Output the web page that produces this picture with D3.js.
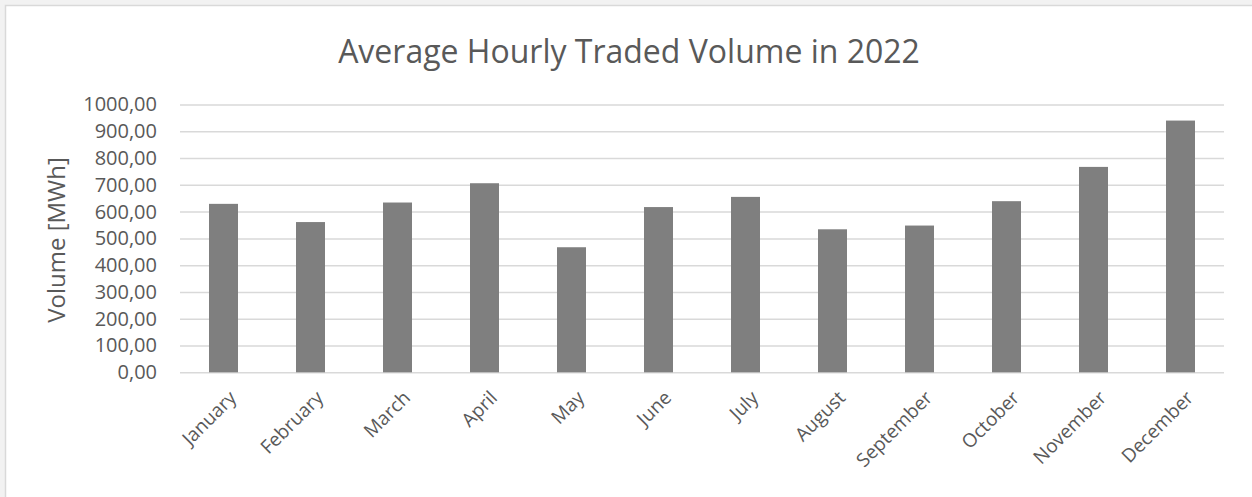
<!DOCTYPE html>
<html>
<head>
<meta charset="utf-8">
<script src="https://cdn.jsdelivr.net/npm/d3@7"></script>
<style>
  body { margin: 0; background: #f2f2f2; }
  svg { display: block; }
  text { font-family: "Open Sans", sans-serif; fill: #595959; }
</style>
</head>
<body>
<div id="chart"></div>
<script>
// data
var months = ["January", "February", "March", "April", "May", "June",
              "July", "August", "September", "October", "November", "December"];
var volume = [629, 561, 634, 706, 467, 617, 655, 534, 548, 639, 767, 940];
var yTicks = [0, 100, 200, 300, 400, 500, 600, 700, 800, 900, 1000];

var width = 1252, height = 497;
var plotLeft = 180, plotRight = 1224, plotTop = 104.5, plotBottom = 372.3;

var svg = d3.select("#chart")
    .append("svg")
    .attr("width", width)
    .attr("height", height);

// chart area with thin border
svg.append("rect")
    .attr("x", 5.5)
    .attr("y", 5.5)
    .attr("width", width)
    .attr("height", height)
    .style("fill", "white")
    .style("stroke", "#d9d9d9")
    .style("stroke-width", 1.5);

var x = d3.scaleBand()
    .domain(months)
    .range([plotLeft, plotRight])
    .paddingInner(2 / 3)
    .paddingOuter(1 / 3);

var y = d3.scaleLinear()
    .domain([0, 1000])
    .range([plotBottom, plotTop]);

var fmt = function(d){ return d3.format(".2f")(d).replace(".", ","); };

// gridlines + y labels
var yAxis = svg.append("g")
    .attr("transform", "translate(" + plotLeft + ",0)")
    .call(d3.axisLeft(y).tickValues(yTicks).tickFormat(fmt)
        .tickSize(-(plotRight - plotLeft)).tickPadding(23));

yAxis.select(".domain").remove();
yAxis.selectAll(".tick line")
    .style("stroke", "#d9d9d9")
    .style("stroke-width", 1.5);
yAxis.selectAll(".tick text")
    .style("font-family", "'Open Sans', sans-serif")
    .style("font-size", "20px")
    .style("fill", "#595959");

// bars
svg.append("g")
    .selectAll("rect")
    .data(volume)
    .enter()
    .append("rect")
    .attr("x", function(d, i){ return x(months[i]); })
    .attr("y", function(d){ return y(d); })
    .attr("width", x.bandwidth())
    .attr("height", function(d){ return y(0) - y(d); })
    .style("fill", "#7f7f7f");

// month labels, rotated
svg.append("g")
    .selectAll("text")
    .data(months)
    .enter()
    .append("text")
    .attr("transform", function(d){
        return "translate(" + (x(d) + x.bandwidth() / 2 + 14) + ",399) rotate(-45)";
    })
    .attr("text-anchor", "end")
    .style("font-size", "19px")
    .text(function(d){ return d; });

// titles
svg.append("text")
    .attr("x", 629)
    .attr("y", 63)
    .attr("text-anchor", "middle")
    .style("font-size", "32px")
    .text("Average Hourly Traded Volume in 2022");

svg.append("text")
    .attr("transform", "translate(65,240) rotate(-90)")
    .attr("text-anchor", "middle")
    .style("font-size", "24px")
    .text("Volume [MWh]");
</script>
</body>
</html>
